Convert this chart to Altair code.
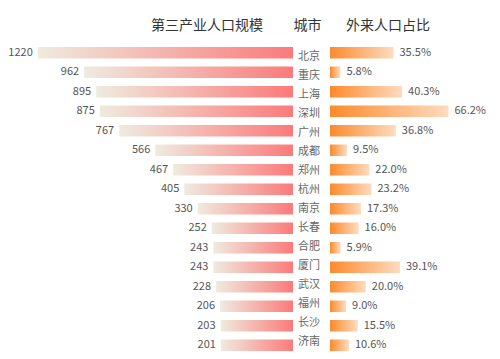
import altair as alt
import pandas as pd

cities = ["北京", "重庆", "上海", "深圳", "广州", "成都", "郑州", "杭州",
          "南京", "长春", "合肥", "厦门", "武汉", "福州", "长沙", "济南"]
tertiary = [1220, 962, 895, 875, 767, 566, 467, 405, 330, 252, 243, 243, 228, 206, 203, 201]
migrant = [35.5, 5.8, 40.3, 66.2, 36.8, 9.5, 22.0, 23.2, 17.3, 16.0, 5.9, 39.1, 20.0, 9.0, 15.5, 10.6]

df = pd.DataFrame({"city": cities, "tertiary": tertiary, "migrant": migrant})

FONT = "Noto Sans CJK SC"
H = 304
OFF = 3
yscale = alt.Scale(paddingInner=0.41, paddingOuter=0)
Y = alt.Y("city:N", sort=None, axis=None, scale=yscale)

red_grad = alt.Gradient(
    gradient="linear", x1=0, x2=1, y1=0, y2=0,
    stops=[alt.GradientStop(color="#efebdf", offset=0),
           alt.GradientStop(color="#fb7a7a", offset=1)])
orange_grad = alt.Gradient(
    gradient="linear", x1=0, x2=1, y1=0, y2=0,
    stops=[alt.GradientStop(color="#fd8a2c", offset=0),
           alt.GradientStop(color="#fddcbf", offset=1)])

xl = alt.X("tertiary:Q", axis=None,
           scale=alt.Scale(domain=[-200, 1380], reverse=True, nice=False, zero=False))
base_l = alt.Chart(df)
left = alt.layer(
    base_l.mark_bar(fill=red_grad).encode(x=xl, x2=alt.datum(-200), y=Y),
    base_l.mark_text(align="right", baseline="middle", dx=-5, fontSize=11,
                     color="#555555", font=FONT).encode(x=xl, y=Y, text="tertiary:Q"),
).properties(
    width=284, height=H,
    title=alt.TitleParams("第三产业人口规模", anchor="end", dx=-30, fontSize=14,
                          fontWeight="normal", color="#333333", font=FONT,
                          baseline="alphabetic", offset=OFF),
)

mid = alt.Chart(df).mark_text(baseline="middle", dx=-2.5, fontSize=11,
                              color="#666666", font=FONT).encode(
    y=Y, text="city:N"
).properties(
    width=37, height=H,
    title=alt.TitleParams("城市", anchor="middle", dx=-4, fontSize=14,
                          fontWeight="normal", color="#333333", font=FONT,
                          baseline="alphabetic", offset=OFF),
)

xr = alt.X("migrant:Q", axis=None, scale=alt.Scale(domain=[0, 90], nice=False))
base_r = alt.Chart(df).transform_calculate(
    label="format(datum.migrant, '.1f') + '%'")
right = alt.layer(
    base_r.mark_bar(fill=orange_grad).encode(x=xr, y=Y),
    base_r.mark_text(align="left", baseline="middle", dx=6, fontSize=11,
                     color="#555555", font=FONT).encode(x=xr, y=Y, text="label:N"),
).properties(
    width=161, height=H,
    title=alt.TitleParams("外来人口占比", anchor="start", dx=16, fontSize=14,
                          fontWeight="normal", color="#333333", font=FONT,
                          baseline="alphabetic", offset=OFF),
)

chart = alt.hconcat(left, mid, right, spacing=0).properties(
    padding={"top": 10, "left": 0, "right": 0, "bottom": 0},
    background="white",
).configure_view(stroke=None)

chart.save("out.html", embed_options={"renderer": "svg", "actions": False})
